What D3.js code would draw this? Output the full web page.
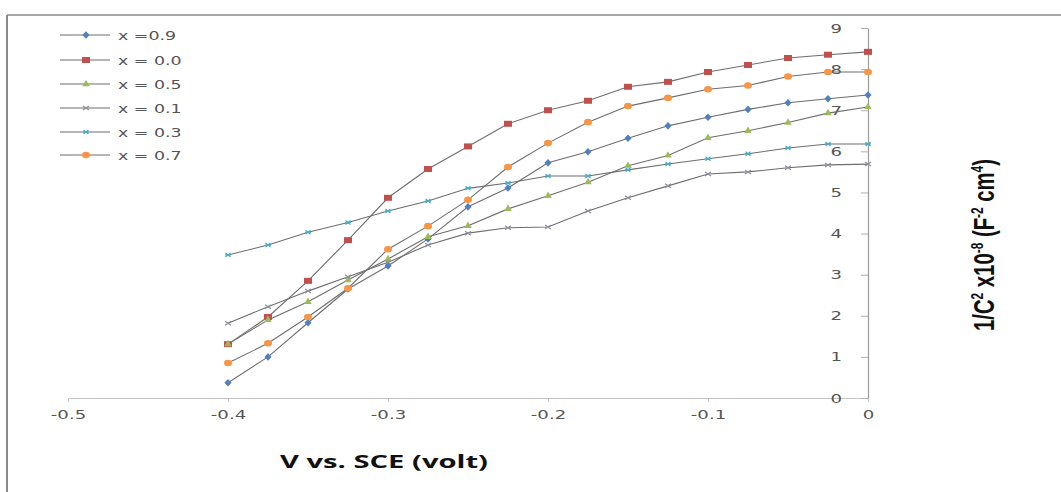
<!DOCTYPE html>
<html>
<head>
<meta charset="utf-8">
<script src="https://cdn.jsdelivr.net/npm/d3@7"></script>
<style>
  html, body { margin: 0; padding: 0; background: #fff; }
  svg { display: block; }
</style>
</head>
<body>
<svg id="chart" width="1061" height="492"></svg>
<script>
// ---- data ----
const voltages = [-0.4, -0.375, -0.35, -0.325, -0.3, -0.275, -0.25, -0.225, -0.2, -0.175, -0.15, -0.125, -0.1, -0.075, -0.05, -0.025, 0];
const seriesNames = ["x =0.9", "x = 0.0", "x = 0.5", "x = 0.1", "x = 0.3", "x = 0.7"];
const valuesX09 = [0.37, 1.0, 1.83, 2.65, 3.21, 3.87, 4.65, 5.11, 5.72, 5.99, 6.32, 6.62, 6.83, 7.02, 7.18, 7.28, 7.37];
const valuesX00 = [1.31, 1.97, 2.85, 3.84, 4.87, 5.57, 6.12, 6.67, 7.0, 7.23, 7.57, 7.69, 7.93, 8.1, 8.27, 8.35, 8.42];
const valuesX05 = [1.31, 1.9, 2.34, 2.87, 3.38, 3.92, 4.19, 4.6, 4.92, 5.25, 5.65, 5.9, 6.33, 6.5, 6.7, 6.93, 7.08];
const valuesX01 = [1.82, 2.22, 2.6, 2.95, 3.3, 3.72, 4.01, 4.14, 4.16, 4.55, 4.87, 5.16, 5.45, 5.5, 5.6, 5.67, 5.69];
const valuesX03 = [3.48, 3.72, 4.03, 4.27, 4.55, 4.79, 5.1, 5.23, 5.4, 5.4, 5.55, 5.69, 5.82, 5.94, 6.08, 6.18, 6.18];
const valuesX07 = [0.85, 1.33, 1.97, 2.67, 3.62, 4.18, 4.82, 5.62, 6.2, 6.71, 7.1, 7.3, 7.51, 7.6, 7.82, 7.93, 7.93];
const xTicks = [-0.5, -0.4, -0.3, -0.2, -0.1, 0];
const yTicks = [0, 1, 2, 3, 4, 5, 6, 7, 8, 9];
const xTitle = "V  vs.  SCE (volt)";

// ---- styles ----
const markerStyles = [
  { shape: "diamond", color: "#4F81BD", size: 26 },
  { shape: "square", color: "#C0504D", size: 0 },
  { shape: "triangle", color: "#9BBB59", size: 24 },
  { shape: "cross", color: "#8C8C9C", size: 0 },
  { shape: "star", color: "#4BACC6", size: 0 },
  { shape: "circle", color: "#F79646", size: 0 }
];
const allValues = [valuesX09, valuesX00, valuesX05, valuesX01, valuesX03, valuesX07];
const series = seriesNames.map((n, i) => ({
  name: n,
  style: markerStyles[i],
  points: voltages.map((v, j) => ({ x: v, y: allValues[i][j] }))
}));

const STRETCH = 1.45;
function stretchText(sel) {
  sel.each(function () {
    const w = this.getComputedTextLength();
    d3.select(this).attr("textLength", w * STRETCH).attr("lengthAdjust", "spacingAndGlyphs");
  });
}

const svg = d3.select("#chart");

// frame
svg.append("line").attr("x1", 7).attr("x2", 1061).attr("y1", 15).attr("y2", 15)
  .attr("stroke", "#8a8a8a").attr("stroke-width", 1.5);
svg.append("line").attr("x1", 7).attr("x2", 7).attr("y1", 15).attr("y2", 492)
  .attr("stroke", "#8a8a8a").attr("stroke-width", 2);

const x = d3.scaleLinear().domain([-0.5, 0]).range([68, 868]);
const y = d3.scaleLinear().domain([0, 9]).range([398, 28]);

const fmt = d => d === 0 ? "0" : d.toFixed(1).replace("−", "-");

// x axis
const gx = svg.append("g").attr("transform", "translate(0,398)")
  .call(d3.axisBottom(x).tickValues(xTicks).tickFormat(fmt).tickSizeInner(4).tickSizeOuter(0).tickPadding(8));
gx.select(".domain").attr("stroke", "#c4c4c4").attr("stroke-width", 1.2);
gx.selectAll(".tick line").attr("stroke", "#c4c4c4");
gx.selectAll("text").attr("fill", "#555").style("font-family", "DejaVu Sans").style("font-size", "12.5px").call(stretchText);

// y axis
const gy = svg.append("g").attr("transform", "translate(868,0)")
  .call(d3.axisLeft(y).tickValues(yTicks).tickFormat(d3.format("d")).tickSizeInner(7).tickSizeOuter(0).tickPadding(19));
gy.select(".domain").attr("stroke", "#9a9a9a").attr("stroke-width", 1.2);
gy.selectAll(".tick line").attr("stroke", "#b0b0b0");
gy.selectAll("text").attr("fill", "#555").style("font-family", "DejaVu Sans").style("font-size", "12.5px").call(stretchText);

// markers
function drawMarker(g, st, cx, cy) {
  if (st.shape === "square") {
    g.append("rect").attr("x", cx - 4).attr("y", cy - 3).attr("width", 8).attr("height", 6).attr("fill", st.color);
  } else if (st.shape === "circle") {
    g.append("ellipse").attr("cx", cx).attr("cy", cy).attr("rx", 4).attr("ry", 3.3).attr("fill", st.color);
  } else if (st.shape === "diamond") {
    g.append("path").attr("d", d3.symbol(d3.symbolDiamond, st.size)()).attr("transform", `translate(${cx},${cy}) scale(1.3,0.8)`).attr("fill", st.color);
  } else if (st.shape === "triangle") {
    g.append("path").attr("d", d3.symbol(d3.symbolTriangle, st.size)()).attr("transform", `translate(${cx},${cy})`).attr("fill", st.color);
  } else if (st.shape === "cross") {
    g.append("path").attr("d", `M${cx-3},${cy-2}L${cx+3},${cy+2}M${cx-3},${cy+2}L${cx+3},${cy-2}`).attr("stroke", st.color).attr("stroke-width", 1.2);
  } else if (st.shape === "star") {
    g.append("path").attr("d", `M${cx-3},${cy}L${cx+3},${cy}M${cx-2.5},${cy-2}L${cx+2.5},${cy+2}M${cx-2.5},${cy+2}L${cx+2.5},${cy-2}`).attr("stroke", st.color).attr("stroke-width", 1.2);
  }
}

const line = d3.line().x(d => x(d.x)).y(d => y(d.y));
const plot = svg.append("g");
series.forEach(s => {
  plot.append("path").datum(s.points).attr("d", line)
    .attr("fill", "none").attr("stroke", "#6e6e6e").attr("stroke-width", 1.1);
});
series.forEach(s => {
  const g = plot.append("g");
  s.points.forEach(p => drawMarker(g, s.style, x(p.x), y(p.y)));
});

// legend
const legendY = [35, 60, 84, 108, 132, 155];
const lg = svg.append("g");
series.forEach((s, i) => {
  const ly = legendY[i];
  lg.append("line").attr("x1", 60).attr("x2", 110).attr("y1", ly).attr("y2", ly)
    .attr("stroke", "#6e6e6e").attr("stroke-width", 1.1);
  drawMarker(lg, s.style, 86, ly);
  lg.append("text").attr("x", 118).attr("y", ly + 4.5).text(s.name)
    .attr("fill", "#555").style("font-family", "DejaVu Sans").style("font-size", "12px").call(stretchText);
});

// axis titles
svg.append("text").attr("x", 280).attr("y", 468).text(xTitle)
  .attr("textLength", 208).attr("lengthAdjust", "spacingAndGlyphs")
  .style("font-family", "Open Sans").style("font-weight", "bold").style("font-size", "17px").attr("fill", "#111");

const yt = svg.append("text").attr("transform", "translate(994,245) rotate(-90)")
  .attr("text-anchor", "middle").attr("textLength", 172).attr("lengthAdjust", "spacingAndGlyphs")
  .style("font-family", "Liberation Sans Narrow, Liberation Sans").style("font-weight", "bold").style("font-size", "29px").attr("fill", "#111");
yt.append("tspan").text("1/C");
yt.append("tspan").attr("dy", -11).style("font-size", "17px").text("2");
yt.append("tspan").attr("dy", 11).text(" x10");
yt.append("tspan").attr("dy", -11).style("font-size", "17px").text("-8");
yt.append("tspan").attr("dy", 11).text(" (F");
yt.append("tspan").attr("dy", -11).style("font-size", "17px").text("-2");
yt.append("tspan").attr("dy", 11).text(" cm");
yt.append("tspan").attr("dy", -11).style("font-size", "17px").text("4");
yt.append("tspan").attr("dy", 11).text(")");
</script>
</body>
</html>
